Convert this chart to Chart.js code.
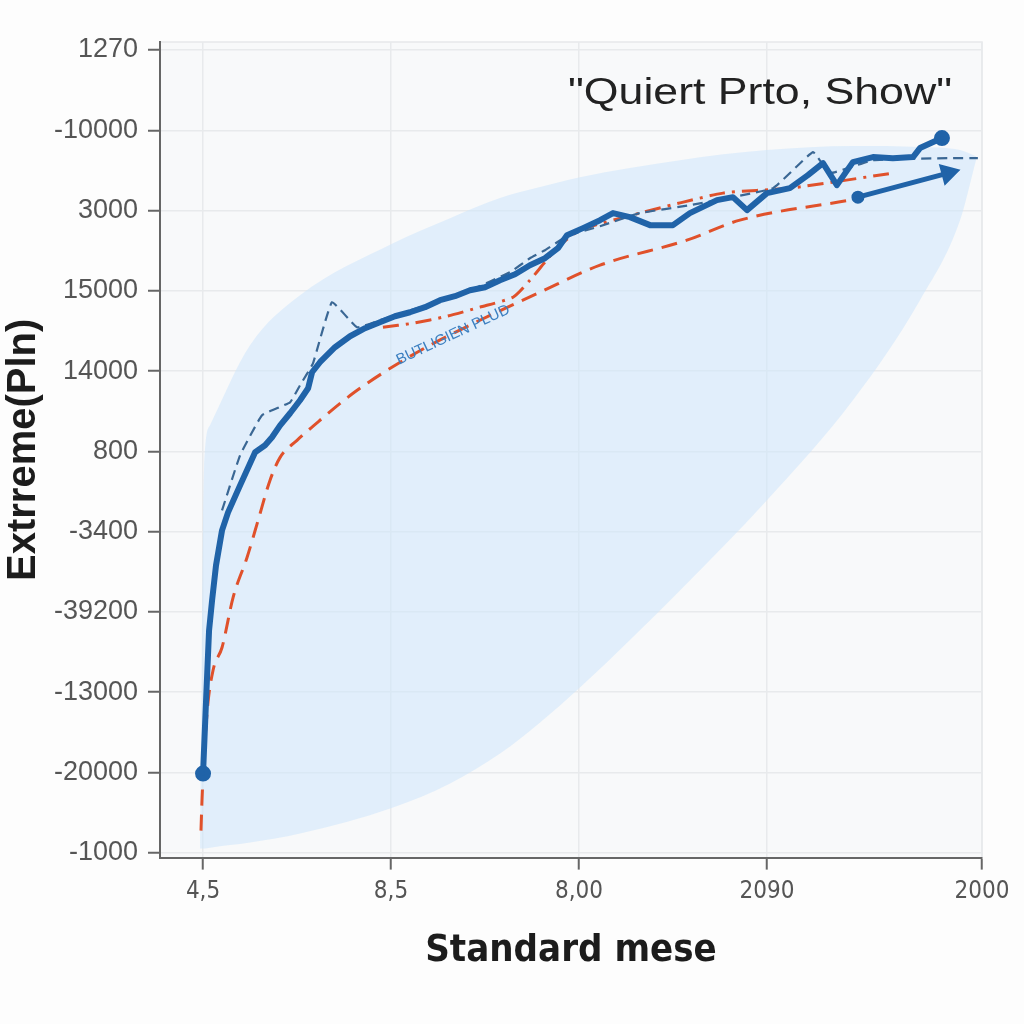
<!DOCTYPE html>
<html>
<head>
<meta charset="utf-8">
<script src="https://cdn.jsdelivr.net/npm/chart.js@4.4.1/dist/chart.umd.min.js"></script>
<style>
  body { margin: 0; background: #fdfdfd; }
  #wrap { width: 1024px; height: 1024px; }
</style>
</head>
<body>
<div id="wrap"><canvas id="chart" width="1024" height="1024"></canvas></div>
<script>
// tick labels (y from bottom to top) and x tick positions
const yLabels = ['-1000', '-20000', '-13000', '-39200', '-3400', '800', '14000', '15000', '3000', '-10000', '1270']
const xLabels = ['4,5', '8,5', '8,00', '2090', '2000']
const xTickVals = [0, 1, 2, 3, 4.144]

// main thick blue series
const mainX = [0, 0.016, 0.032, 0.048, 0.069, 0.101, 0.133, 0.197, 0.277, 0.330, 0.367, 0.410, 0.463, 0.516, 0.559, 0.580, 0.622, 0.702, 0.782, 0.862, 0.941, 1.021, 1.101, 1.181, 1.261, 1.340, 1.420, 1.500, 1.580, 1.660, 1.739, 1.819, 1.888, 1.936, 2.021, 2.112, 2.181, 2.271, 2.378, 2.500, 2.590, 2.734, 2.819, 2.894, 3.000, 3.122, 3.218, 3.298, 3.372, 3.457, 3.564, 3.670, 3.777, 3.814, 3.931]
const mainY = [0.985, 1.895, 2.768, 3.142, 3.579, 4.015, 4.239, 4.576, 4.988, 5.075, 5.175, 5.324, 5.474, 5.636, 5.786, 5.985, 6.110, 6.297, 6.434, 6.534, 6.608, 6.683, 6.733, 6.796, 6.883, 6.933, 7.007, 7.045, 7.132, 7.207, 7.319, 7.406, 7.531, 7.693, 7.781, 7.880, 7.968, 7.918, 7.818, 7.818, 7.968, 8.130, 8.167, 8.005, 8.217, 8.279, 8.441, 8.591, 8.317, 8.603, 8.666, 8.653, 8.666, 8.778, 8.903]

// thin dashed slate series
const thinX = [0.101, 0.197, 0.314, 0.463, 0.516, 0.585, 0.686, 0.819, 0.941, 1.154, 1.420, 1.633, 1.739, 1.819, 1.936, 2.112, 2.324, 2.590, 3.032, 3.245, 3.335, 3.564, 3.963, 4.122]
const thinY = [4.264, 4.950, 5.449, 5.611, 5.823, 6.097, 6.858, 6.546, 6.633, 6.796, 7.007, 7.232, 7.406, 7.506, 7.681, 7.805, 7.968, 8.067, 8.279, 8.728, 8.466, 8.628, 8.653, 8.653]

// red dashed fit, lower
const redLoX = [-0.011, -0.005, 0.021, 0.053, 0.101, 0.160, 0.234, 0.293, 0.356, 0.410, 0.500, 0.622, 0.798, 0.979, 1.207, 1.473, 1.793, 2.112, 2.574, 2.856, 3.441]
const redLoY = [0.274, 0.686, 1.733, 2.269, 2.556, 3.180, 3.678, 4.140, 4.638, 4.925, 5.137, 5.387, 5.723, 6.010, 6.322, 6.633, 6.983, 7.319, 7.631, 7.880, 8.130]

// red dash-dot fit, upper
const redHiX = [0.957, 1.117, 1.298, 1.473, 1.649, 1.739, 1.819, 1.899, 2.005, 2.324, 2.766, 3.122, 3.670]
const redHiY = [6.546, 6.596, 6.683, 6.796, 6.920, 7.132, 7.357, 7.569, 7.756, 7.968, 8.217, 8.279, 8.466]

// short arrow segment
const arrowX = [3.484, 3.963]
const arrowY = [8.167, 8.466]

// shaded band (same x for both edges)
const bandX = [-0.016, 0.005, 0.037, 0.250, 0.516, 1.011, 1.314, 1.580, 1.793, 2.005, 2.537, 3.000, 3.457, 3.814, 4.027, 4.112]
const bandHi = [0.087, 4.763, 5.324, 6.322, 6.945, 7.594, 7.905, 8.155, 8.292, 8.416, 8.628, 8.753, 8.803, 8.791, 8.753, 8.678]
const bandLo = [0.050, 0.050, 0.062, 0.125, 0.237, 0.561, 0.860, 1.234, 1.621, 2.057, 3.267, 4.389, 5.636, 6.883, 7.880, 8.628]

const titleText = '"Quiert Prto, Show"'
const noteText = 'BUTLIGIEN PLUD'

function pts(xs, ys) {
  return xs.map((x, i) => ({ x: x, y: ys[i] }))
}

const plotBg = {
  id: 'plotBg',
  beforeDraw(chart) {
    const a = chart.chartArea
    const c = chart.ctx
    c.save()
    c.fillStyle = '#f8f9fa'
    c.fillRect(a.left, a.top, a.right - a.left, a.bottom - a.top)
    c.strokeStyle = '#e6e8ea'
    c.lineWidth = 1.5
    c.beginPath()
    c.moveTo(a.left, a.top)
    c.lineTo(a.right, a.top)
    c.lineTo(a.right, a.bottom)
    c.stroke()
    c.restore()
  }
}

const texts = {
  id: 'texts',
  afterDatasetsDraw(chart) {
    const c = chart.ctx
    const a = chart.chartArea
    const sx = chart.scales.x, sy = chart.scales.y
    c.save()
    // title inside the plot, top right
    c.font = '36px "Liberation Sans", Arial, sans-serif'
    c.fillStyle = '#222'
    c.textAlign = 'right'
    c.textBaseline = 'alphabetic'
    const w = c.measureText(titleText).width
    const target = 384
    c.translate(a.right - 30, 104)
    c.scale(target / w, 1)
    c.fillText(titleText, 0, 0)
    c.restore()

    // small slanted note
    c.save()
    c.translate(sx.getPixelForValue(1.33), sy.getPixelForValue(6.45))
    c.rotate(-25 * Math.PI / 180)
    c.font = '15px "Liberation Sans", Arial, sans-serif'
    c.fillStyle = '#3b7fc0'
    c.textAlign = 'center'
    c.textBaseline = 'middle'
    c.fillText(noteText, 0, 0)
    c.restore()
  }
}

const lastMain = mainX.length - 1

new Chart(document.getElementById('chart'), {
  type: 'line',
  data: {
    datasets: [
      {
        label: 'main',
        data: pts(mainX, mainY),
        borderColor: '#2063a8',
        backgroundColor: '#2063a8',
        borderWidth: 6,
        borderJoinStyle: 'round',
        tension: 0,
        pointRadius: (ctx) => (ctx.dataIndex === 0 || ctx.dataIndex === lastMain) ? 5 : 0,
        order: 1
      },
      {
        label: 'arrow',
        data: pts(arrowX, arrowY),
        borderColor: '#2063a8',
        backgroundColor: '#2063a8',
        borderWidth: 5,
        pointStyle: ['circle', 'triangle'],
        pointRadius: [4, 8],
        rotation: [0, 75],
        order: 1
      },
      {
        label: 'thin',
        data: pts(thinX, thinY),
        borderColor: '#3a6794',
        borderWidth: 2.2,
        borderDash: [10, 6],
        pointRadius: 0,
        tension: 0.1,
        order: 3
      },
      {
        label: 'redLo',
        data: pts(redLoX, redLoY),
        borderColor: '#e0512b',
        borderWidth: 3,
        borderDash: [16, 9],
        pointRadius: 0,
        cubicInterpolationMode: 'monotone',
        order: 4
      },
      {
        label: 'redHi',
        data: pts(redHiX, redHiY),
        borderColor: '#e0512b',
        borderWidth: 3,
        borderDash: [16, 7, 3, 7],
        pointRadius: 0,
        tension: 0.2,
        order: 4
      },
      {
        label: 'bandLo',
        data: pts(bandX, bandLo),
        borderWidth: 0,
        borderColor: 'rgba(0,0,0,0)',
        pointRadius: 0,
        fill: false,
        cubicInterpolationMode: 'monotone',
        order: 10
      },
      {
        label: 'bandHi',
        data: pts(bandX, bandHi),
        borderWidth: 0,
        borderColor: 'rgba(0,0,0,0)',
        backgroundColor: 'rgba(205, 230, 252, 0.55)',
        pointRadius: 0,
        fill: '-1',
        cubicInterpolationMode: 'monotone',
        order: 10
      }
    ]
  },
  options: {
    responsive: false,
    animation: false,
    layout: { padding: { top: 42, right: 42, bottom: 50, left: 0 } },
    plugins: {
      legend: { display: false },
      tooltip: { enabled: false }
    },
    scales: {
      x: {
        type: 'linear',
        min: -0.229,
        max: 4.144,
        afterBuildTicks: (s) => { s.ticks = xTickVals.map(v => ({ value: v })) },
        ticks: {
          callback: (v, i) => xLabels[i],
          font: { family: "'Liberation Sans Narrow', 'DejaVu Sans Condensed', Roboto, sans-serif", size: 24 },
          color: '#555',
          padding: 8,
          maxRotation: 0
        },
        grid: { color: '#e8eaec', lineWidth: 1.5, tickColor: '#666', tickLength: 12, tickWidth: 2 },
        border: { color: '#666', width: 2 },
        title: {
          display: true,
          text: 'Standard mese',
          color: '#1c1c1c',
          font: { family: "'Liberation Sans Narrow', 'DejaVu Sans Condensed', Roboto, sans-serif", size: 38, weight: 'bold' },
          padding: { top: 14, bottom: 0 }
        }
      },
      y: {
        type: 'linear',
        min: -0.062,
        max: 10.1,
        afterBuildTicks: (s) => { s.ticks = yLabels.map((l, i) => ({ value: i })) },
        afterFit: (s) => { s.width = 160 },
        ticks: {
          callback: (v, i) => yLabels[i],
          font: { family: "'Liberation Sans', Arial, sans-serif", size: 27 },
          color: '#555',
          padding: 10
        },
        grid: { color: '#e8eaec', lineWidth: 1.5, tickColor: '#666', tickLength: 12, tickWidth: 2 },
        border: { color: '#666', width: 2 },
        title: {
          display: true,
          text: 'Extrreme(Pln)',
          color: '#1c1c1c',
          font: { family: "'Liberation Sans', Arial, sans-serif", size: 40, weight: 'bold' },
          padding: { top: 0, bottom: 0 }
        }
      }
    }
  },
  plugins: [plotBg, texts]
})
</script>
</body>
</html>
